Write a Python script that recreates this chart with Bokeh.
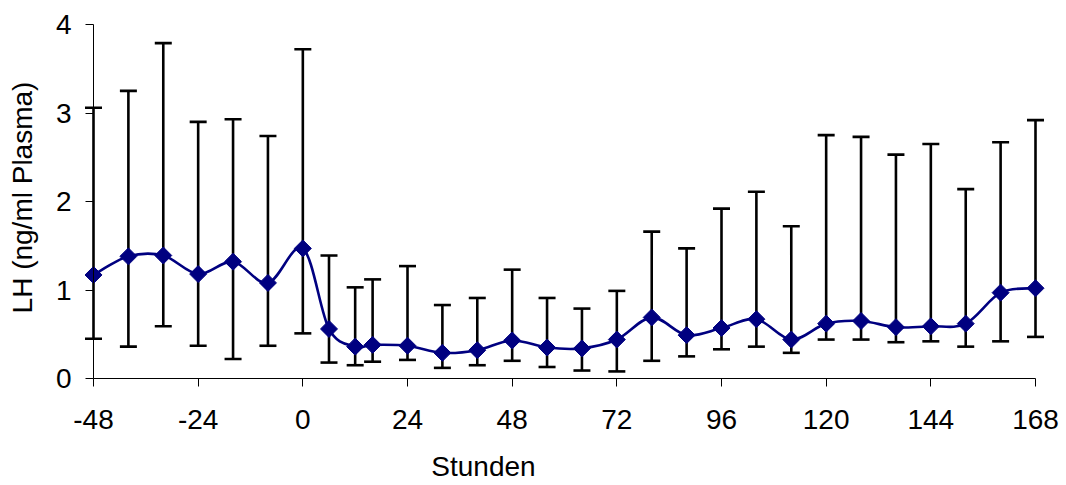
import numpy as np
from bokeh.plotting import figure
from bokeh.models import Range1d, FixedTicker, Whisker, TeeHead, ColumnDataSource, Label
from bokeh.embed import file_html
from bokeh.resources import INLINE

# ---- data ----
hours = [-48, -40, -32, -24, -16, -8, 0, 6, 12, 16, 24, 32, 40, 48, 56, 64, 72,
         80, 88, 96, 104, 112, 120, 128, 136, 144, 152, 160, 168]
lh_mean = [1.17, 1.38, 1.39, 1.18, 1.32, 1.08, 1.47, 0.56, 0.36, 0.38, 0.37, 0.29,
           0.32, 0.43, 0.35, 0.34, 0.44, 0.69, 0.49, 0.57, 0.67, 0.44, 0.62, 0.65,
           0.58, 0.59, 0.62, 0.97, 1.02]
lh_upper = [3.06, 3.25, 3.79, 2.90, 2.93, 2.74, 3.72, 1.39, 1.03, 1.12, 1.27, 0.83,
            0.91, 1.23, 0.91, 0.79, 0.99, 1.66, 1.47, 1.92, 2.11, 1.72, 2.75, 2.73,
            2.53, 2.65, 2.14, 2.67, 2.92]
lh_lower = [0.45, 0.36, 0.59, 0.37, 0.22, 0.37, 0.51, 0.18, 0.15, 0.19, 0.21, 0.12,
            0.15, 0.20, 0.13, 0.09, 0.08, 0.20, 0.25, 0.33, 0.36, 0.29, 0.44, 0.44,
            0.41, 0.42, 0.36, 0.42, 0.47]
x_ticks = [-48, -24, 0, 24, 48, 72, 96, 120, 144, 168]
y_ticks = [0, 1, 2, 3, 4]
x_title = "Stunden"
y_title = "LH (ng/ml Plasma)"

# ---- layout constants (pixels) ----
W, H = 1066, 485
AX_LEFT, AX_RIGHT = 93, 1035   # px of first / last x tick
AX_BOTTOM, AX_TOP = 378, 24    # px of first / last y tick
X0, X1 = x_ticks[0], x_ticks[-1]
Y0, Y1 = y_ticks[0], y_ticks[-1]
PXX = (AX_RIGHT - AX_LEFT) / (X1 - X0)
PXY = (AX_BOTTOM - AX_TOP) / (Y1 - Y0)
FONT = "Liberation Sans"
TICK_FS = "28px"
TITLE_FS = "28px"

p = figure(width=W, height=H,
           x_range=Range1d(X0 - AX_LEFT / PXX, X0 + (W - AX_LEFT) / PXX),
           y_range=Range1d(Y0 - (H - AX_BOTTOM) / PXY, Y0 + AX_BOTTOM / PXY),
           min_border=0, output_backend="svg", toolbar_location=None)
p.outline_line_color = None
p.xgrid.visible = False
p.ygrid.visible = False
p.background_fill_color = "white"
p.border_fill_color = "white"

for ax, ticks, loc, bnds in ((p.xaxis[0], x_ticks, Y0, (X0, X1)),
                             (p.yaxis[0], y_ticks, X0, (Y0, Y1))):
    ax.ticker = FixedTicker(ticks=ticks)
    ax.major_label_overrides = {t: str(t) for t in ticks}
    ax.fixed_location = loc
    ax.bounds = bnds
    ax.axis_line_color = "black"
    ax.axis_line_width = 1
    ax.major_tick_line_color = "black"
    ax.major_tick_out = 8
    ax.major_tick_in = 0
    ax.minor_tick_line_color = None
    ax.major_label_text_font = FONT
    ax.major_label_text_font_size = TICK_FS
    ax.major_label_text_color = "black"
p.xaxis[0].major_label_standoff = 23
p.yaxis[0].major_label_standoff = 14

src = ColumnDataSource(dict(x=hours, y=lh_mean, upper=lh_upper, lower=lh_lower))

# error bars
wh = Whisker(source=src, base="x", upper="upper", lower="lower",
             line_color="black", line_width=2.6,
             upper_head=TeeHead(size=17, line_color="black", line_width=2.6),
             lower_head=TeeHead(size=17, line_color="black", line_width=2.6),
             level="underlay")
p.add_layout(wh)

# smoothed line (Catmull-Rom style cubic Bezier segments through the means)
xs = np.asarray(hours, dtype=float)
ys = np.asarray(lh_mean, dtype=float)
xp = np.r_[xs[0], xs[:-1]]
yp = np.r_[ys[0], ys[:-1]]
xn = np.r_[xs[1:], xs[-1]]
yn = np.r_[ys[1:], ys[-1]]
tx = (xn - xp) / 6.0
ty = (yn - yp) / 6.0
p.bezier(x0=xs[:-1], y0=ys[:-1], x1=xs[1:], y1=ys[1:],
         cx0=xs[:-1] + tx[:-1], cy0=ys[:-1] + ty[:-1],
         cx1=xs[1:] - tx[1:], cy1=ys[1:] - ty[1:],
         line_color="#000080", line_width=2.6)

# diamond markers
p.scatter("x", "y", source=src, marker="square", angle=np.pi / 4, size=12,
          fill_color="#000080", line_color="#000080")

# axis titles
p.add_layout(Label(x=X0 + (483 - AX_LEFT) / PXX, y=Y0 - (466 - AX_BOTTOM) / PXY,
                   text=x_title, text_font=FONT, text_font_size=TITLE_FS,
                   text_color="black", text_align="center", text_baseline="middle"))
p.add_layout(Label(x=X0 - (AX_LEFT - 22) / PXX, y=Y0 + (AX_BOTTOM - 197) / PXY,
                   text=y_title, angle=np.pi / 2, text_font=FONT, text_font_size=TITLE_FS,
                   text_color="black", text_align="center", text_baseline="middle"))

open("out.html", "w").write(file_html(p, INLINE))
